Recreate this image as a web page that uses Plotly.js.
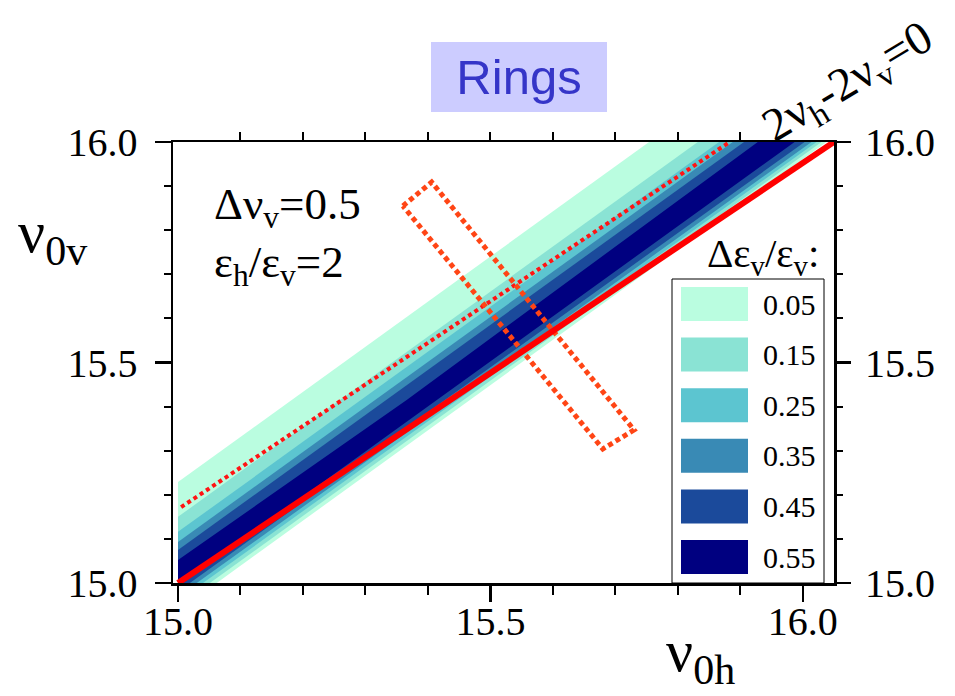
<!DOCTYPE html>
<html>
<head>
<meta charset="utf-8">
<script src="https://cdn.plot.ly/plotly-3.0.1.min.js"></script>
<style>
  html, body { margin: 0; padding: 0; background: #ffffff; }
  #chart { width: 955px; height: 696px; }
</style>
</head>
<body>
<div id="chart"></div>
<script>
// Contour levels of the emittance growth  Δε_v/ε_v  and their fill colours
const levels = [0.05, 0.15, 0.25, 0.35, 0.45, 0.55];
const levelColors = ['#bafde0', '#8ae3d4', '#5cc5d0', '#398ab5', '#1b4a9b', '#000080'];

// Upper edge of each level region (ν0h, ν0v), from the left border to the top border
const upperEdgeH = [
  [15.000, 15.754],
  [15.000, 15.832],
  [15.000, 15.866],
  [15.000, 15.888],
  [15.000, 15.906],
  [15.000, 15.366, 15.928]
];
const upperEdgeV = [
  [15.229, 16.000],
  [15.150, 16.000],
  [15.116, 16.000],
  [15.093, 16.000],
  [15.075, 16.000],
  [15.052, 15.415, 16.000]
];
// Lower edge of each level region, from the top border down to the bottom border
const lowerEdgeH = [
  [16.038, 15.062],
  [16.030, 15.051],
  [16.022, 15.040],
  [16.014, 15.030],
  [16.003, 15.019],
  [15.987, 15.008]
];
const lowerEdgeV = [
  [16.000, 15.000],
  [16.000, 15.000],
  [16.000, 15.000],
  [16.000, 15.000],
  [16.000, 15.000],
  [16.000, 15.000]
];
// Corner of the scanned tune area
const scanOriginH = 15.0;
const scanOriginV = 15.0;

// Resonance line 2νh - 2νv = 0
const resonanceH = [15.0, 16.05];
const resonanceV = [15.0, 16.0];
// Dotted guide parallel to the resonance
const guideH = [15.005, 15.883];
const guideV = [15.172, 16.0];
// Dotted frame across the resonance
const frameH = [15.360, 15.406, 15.730, 15.680, 15.360];
const frameV = [15.855, 15.909, 15.347, 15.304, 15.855];

// Axis ticks
const majorTicks = [15.0, 15.5, 16.0];
const majorTickText = ['15.0', '15.5', '16.0'];
const minorTicks = [15.1, 15.2, 15.3, 15.4, 15.6, 15.7, 15.8, 15.9];
const topTicks = [15.1, 15.2, 15.3, 15.4, 15.5, 15.6, 15.7, 15.8, 15.9];

const serif = 'Liberation Serif';
const sans = 'Liberation Sans';

// plot area in pixels (for placing decorations in paper coordinates)
const PL = 173, PR = 834, PT = 142, PB = 583;
const px = v => (v - PL) / (PR - PL);
const py = v => (PB - v) / (PB - PT);

const traces = [];
levels.forEach((lev, i) => {
  const xs = upperEdgeH[i].concat(lowerEdgeH[i], [scanOriginH]);
  const ys = upperEdgeV[i].concat(lowerEdgeV[i], [scanOriginV]);
  traces.push({
    type: 'scatter', mode: 'lines', x: xs, y: ys,
    fill: 'toself', fillcolor: levelColors[i],
    line: { width: 0, color: levelColors[i] },
    hoverinfo: 'skip', name: lev.toFixed(2)
  });
});
traces.push({
  type: 'scatter', mode: 'lines', x: guideH, y: guideV,
  line: { color: '#ff1414', width: 4, dash: '4px,3.5px' }, hoverinfo: 'skip'
});
traces.push({
  type: 'scatter', mode: 'lines', x: frameH, y: frameV,
  line: { color: '#ff4515', width: 5, dash: '5px,3.5px' }, hoverinfo: 'skip'
});
traces.push({
  type: 'scatter', mode: 'lines', x: resonanceH, y: resonanceV,
  line: { color: '#ff0000', width: 6 }, hoverinfo: 'skip'
});
// anchors the mirrored top/right axes
traces.push({
  type: 'scatter', mode: 'markers', x: [15.5], y: [15.5], xaxis: 'x2', yaxis: 'y2',
  marker: { opacity: 0 }, hoverinfo: 'skip'
});

const tickFont = { family: serif, size: 40, color: '#000' };
const xr = [14.992, 16.05], yr = [15.0, 16.0];

const shapes = [
  { type: 'rect', xref: 'paper', yref: 'paper', x0: px(431), x1: px(607), y0: py(112), y1: py(42),
    fillcolor: '#ccccff', line: { width: 0 }, layer: 'below' },
  { type: 'rect', xref: 'paper', yref: 'paper', x0: px(672), x1: px(824), y0: 0, y1: py(279),
    fillcolor: '#ffffff', line: { width: 1, color: '#000' } }
];
const annotations = [
  { text: 'ν<sub>0v</sub>', xref: 'paper', yref: 'paper', x: px(16), y: py(236),
    xanchor: 'left', yanchor: 'middle', showarrow: false, font: { family: serif, size: 60, color: '#000' } },
  { text: 'ν<sub>0h</sub>', xref: 'paper', yref: 'paper', x: px(664), y: py(655),
    xanchor: 'left', yanchor: 'middle', showarrow: false, font: { family: serif, size: 60, color: '#000' } },
  { text: 'Δν<sub>v</sub>=0.5', xref: 'paper', yref: 'paper', x: px(212), y: py(207),
    xanchor: 'left', yanchor: 'middle', showarrow: false, font: { family: serif, size: 45, color: '#000' } },
  { text: 'ε<sub>h</sub>/ε<sub>v</sub>=2', xref: 'paper', yref: 'paper', x: px(212), y: py(265),
    xanchor: 'left', yanchor: 'middle', showarrow: false, font: { family: serif, size: 45, color: '#000' } },
  { text: 'Δε<sub>v</sub>/ε<sub>v</sub>:', xref: 'paper', yref: 'paper', x: px(821), y: py(256),
    xanchor: 'right', yanchor: 'middle', showarrow: false, font: { family: serif, size: 41, color: '#000' } },
  { text: '2ν<sub>h</sub>-2ν<sub>v</sub>=0', xref: 'paper', yref: 'paper', x: px(849), y: py(84),
    xanchor: 'center', yanchor: 'middle', textangle: -31, showarrow: false,
    font: { family: serif, size: 47, color: '#000' } }
];
levels.forEach((lev, i) => {
  const yc = 304 + 50.6 * i;
  shapes.push({ type: 'rect', xref: 'paper', yref: 'paper', x0: px(681), x1: px(748),
    y0: py(yc + 17), y1: py(yc - 17), fillcolor: levelColors[i], line: { width: 0 } });
  annotations.push({ text: lev.toFixed(2), xref: 'paper', yref: 'paper', x: px(761), y: py(yc),
    xanchor: 'left', yanchor: 'middle', showarrow: false, font: { family: serif, size: 30, color: '#000' } });
});

const layout = {
  width: 955, height: 696,
  margin: { l: PL, r: 955 - PR, t: PT, b: 696 - PB, pad: 0 },
  paper_bgcolor: '#ffffff', plot_bgcolor: '#ffffff',
  showlegend: false,
  title: { text: 'Rings', xref: 'container', yref: 'container', x: 519 / 955, y: 1 - 77 / 696,
    xanchor: 'center', yanchor: 'middle', font: { family: sans, size: 49, color: '#3535c8' } },
  xaxis: {
    range: xr, tickvals: majorTicks, ticktext: majorTickText,
    ticks: 'outside', ticklen: 16, tickwidth: 2.5, tickcolor: '#000',
    showline: true, linewidth: 2.5, linecolor: '#000', mirror: true,
    showgrid: false, zeroline: false, tickfont: tickFont, ticklabelstandoff: -15,
    minor: { tickvals: minorTicks, ticks: 'outside', ticklen: 9, tickwidth: 2, tickcolor: '#000', showgrid: false }
  },
  yaxis: {
    range: yr, tickvals: majorTicks, ticktext: majorTickText,
    ticks: 'outside', ticklen: 16, tickwidth: 2.5, tickcolor: '#000',
    showline: true, linewidth: 2.5, linecolor: '#000', mirror: true,
    showgrid: false, zeroline: false, tickfont: tickFont, ticklabelstandoff: 9,
    minor: { tickvals: minorTicks, ticks: 'outside', ticklen: 7, tickwidth: 2, tickcolor: '#000', showgrid: false }
  },
  xaxis2: {
    overlaying: 'x', side: 'top', anchor: 'y2', range: xr,
    tickvals: topTicks, ticks: 'outside', ticklen: 9, tickwidth: 2, tickcolor: '#000',
    showticklabels: false, showline: false, showgrid: false, zeroline: false
  },
  yaxis2: {
    overlaying: 'y', side: 'right', anchor: 'x2', range: yr,
    tickvals: majorTicks, ticktext: majorTickText,
    ticks: 'outside', ticklen: 16, tickwidth: 2.5, tickcolor: '#000',
    showline: false, showgrid: false, zeroline: false, tickfont: tickFont, ticklabelstandoff: 6,
    minor: { tickvals: minorTicks, ticks: 'outside', ticklen: 8, tickwidth: 2, tickcolor: '#000', showgrid: false }
  },
  shapes: shapes,
  annotations: annotations
};

Plotly.newPlot('chart', traces, layout, { staticPlot: true });
</script>
</body>
</html>
